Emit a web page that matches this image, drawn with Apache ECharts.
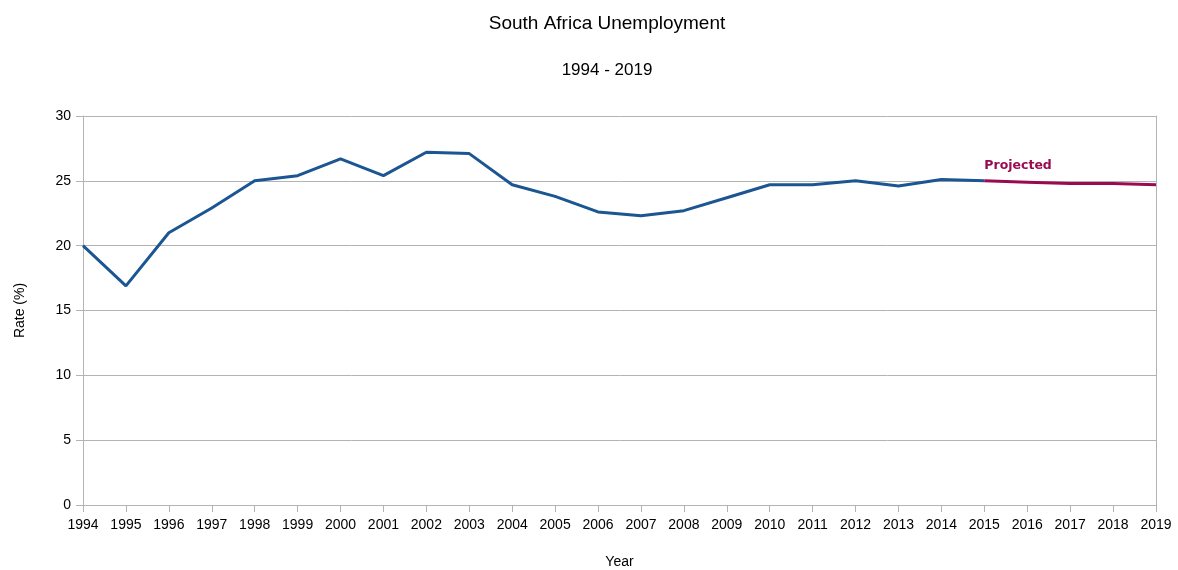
<!DOCTYPE html>
<html>
<head>
<meta charset="utf-8">
<style>
  html, body { margin: 0; padding: 0; background: #fff; }
  #chart { width: 1178px; height: 570px; }
</style>
<script src="https://cdn.jsdelivr.net/npm/echarts@6/dist/echarts.min.js"></script>
</head>
<body>
<div id="chart"></div>
<script>
// Annual unemployment rate (%), recorded and projected
const years = ['1994','1995','1996','1997','1998','1999','2000','2001','2002','2003',
  '2004','2005','2006','2007','2008','2009','2010','2011','2012','2013',
  '2014','2015','2016','2017','2018','2019'];
const recorded = [20.0, 16.9, 21.0, 22.9, 25.0, 25.4, 26.7, 25.4, 27.2, 27.1,
  24.7, 23.8, 22.6, 22.3, 22.7, 23.7, 24.7, 24.7, 25.0, 24.6,
  25.1, 25.0];
const projectedYears = ['2015','2016','2017','2018','2019'];
const projected = [25.0, 24.9, 24.8, 24.8, 24.7];
const yTicks = [0, 5, 10, 15, 20, 25, 30];

const recordedData = years.map((y, i) => i < recorded.length ? recorded[i] : null);
const projectedData = years.map(y => {
  const k = projectedYears.indexOf(y);
  return k >= 0 ? projected[k] : null;
});

const font = 'Liberation Sans, Arial, sans-serif';
const axisGray = '#b3b3b3';
const chart = echarts.init(document.getElementById('chart'));
chart.setOption({
  animation: false,
  textStyle: { fontFamily: font },
  title: [
    { text: 'South Africa Unemployment', left: 602, top: 9, textAlign: 'center',
      textStyle: { fontSize: 19, fontWeight: 'normal', color: '#000', fontFamily: font } },
    { text: '1994 - 2019', left: 602, top: 57, textAlign: 'center',
      textStyle: { fontSize: 17, fontWeight: 'normal', color: '#000', fontFamily: font } }
  ],
  grid: { left: 83, right: 22, top: 116, bottom: 65, containLabel: false, outerBoundsMode: 'none' },
  xAxis: {
    type: 'category',
    data: years,
    boundaryGap: false,
    name: 'Year',
    nameLocation: 'middle',
    nameGap: 50,
    nameTextStyle: { fontSize: 14, color: '#000', fontFamily: font },
    axisLine: { lineStyle: { color: axisGray, width: 1 } },
    axisTick: { show: true, length: 7, inside: false, lineStyle: { color: axisGray } },
    axisLabel: { fontSize: 14, color: '#000', margin: 13, fontFamily: font },
    splitLine: { show: false }
  },
  yAxis: [{
    type: 'value',
    min: yTicks[0],
    max: yTicks[yTicks.length - 1],
    interval: 5,
    name: 'Rate (%)',
    nameLocation: 'middle',
    nameRotate: 90,
    nameGap: 56,
    nameTextStyle: { fontSize: 14, color: '#000', fontFamily: font },
    axisLine: { show: true, lineStyle: { color: axisGray, width: 1 } },
    axisTick: { show: true, length: 7, lineStyle: { color: axisGray } },
    axisLabel: { fontSize: 14, color: '#000', margin: 12, fontFamily: font },
    splitLine: { show: true, lineStyle: { color: axisGray, width: 1 } }
  }, {
    type: 'value',
    position: 'right',
    min: yTicks[0],
    max: yTicks[yTicks.length - 1],
    interval: 5,
    axisLine: { show: true, lineStyle: { color: axisGray, width: 1 } },
    axisTick: { show: false },
    axisLabel: { show: false },
    splitLine: { show: false }
  }],
  series: [
    {
      name: 'Recorded',
      type: 'line',
      data: recordedData,
      showSymbol: false,
      lineStyle: { color: '#1b5592', width: 3 },
      itemStyle: { color: '#1b5592' },
      z: 3
    },
    {
      name: 'Projected',
      type: 'line',
      data: projectedData,
      showSymbol: false,
      lineStyle: { color: '#990a50', width: 3 },
      itemStyle: { color: '#990a50' },
      z: 4,
      markPoint: {
        symbol: 'circle',
        symbolSize: 0,
        data: [{ coord: [projectedYears[0], projected[0]] }],
        label: {
          show: true,
          formatter: 'Projected',
          position: [0, -15],
          align: 'left',
          verticalAlign: 'middle',
          color: '#990a50',
          fontWeight: 'bold',
          fontSize: 12.5,
          fontFamily: 'DejaVu Sans, sans-serif'
        }
      }
    }
  ]
});
</script>
</body>
</html>
